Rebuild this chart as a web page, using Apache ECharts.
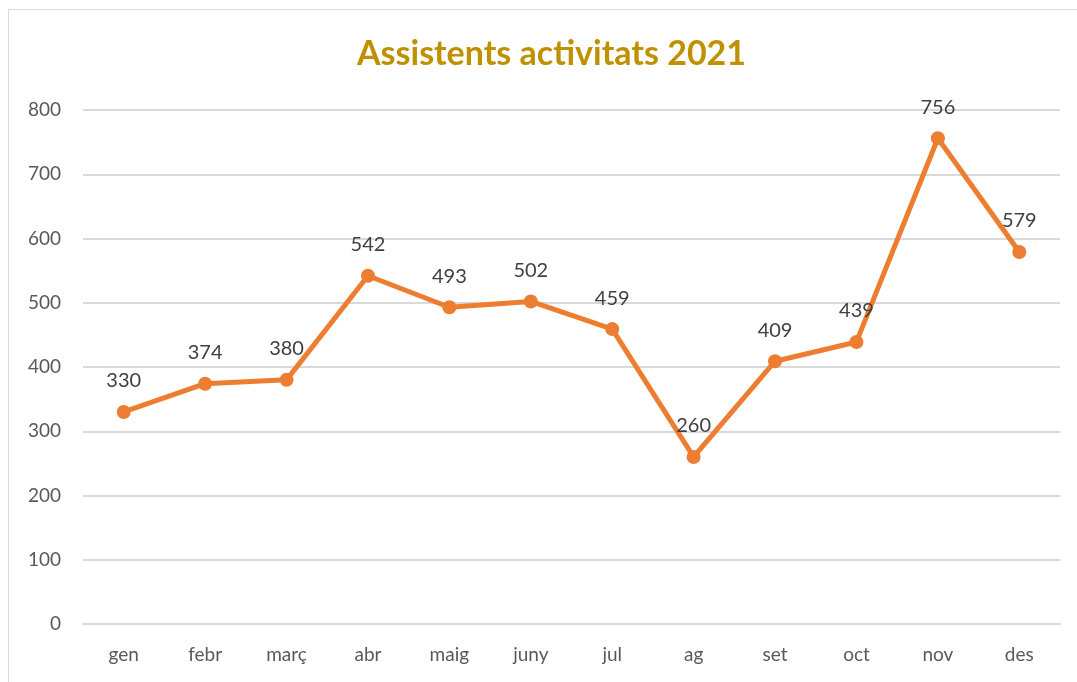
<!DOCTYPE html>
<html>
<head>
<meta charset="utf-8">
<script src="https://cdn.jsdelivr.net/npm/echarts@6/dist/echarts.min.js"></script>
<style>
  html, body { margin: 0; padding: 0; background: #fff; }
  #frame { position: absolute; left: 8px; top: 9px; width: 1080px; height: 690px; border: 1px solid #d9d9d9; }
  #chart { width: 1077px; height: 682px; position: absolute; left: 0; top: 0; }
</style>
</head>
<body>
<div id="frame"></div>
<div id="chart"></div>
<script>
// dades
const months = ['gen', 'febr', 'març', 'abr', 'maig', 'juny', 'jul', 'ag', 'set', 'oct', 'nov', 'des']
const assistents = [330, 374, 380, 542, 493, 502, 459, 260, 409, 439, 756, 579]
const yTicks = [0, 100, 200, 300, 400, 500, 600, 700, 800]

const font = 'Lato, "Open Sans", sans-serif'
const chart = echarts.init(document.getElementById('chart'))

chart.setOption({
    backgroundColor: 'transparent',
    animation: false,
    title: {
        text: 'Assistents activitats 2021',
        left: 352,
        top: 32,
        textStyle: { color: '#BF9000', fontSize: 34, fontWeight: 'bold', fontFamily: font }
    },
    grid: { left: 83, right: 17, top: 110, bottom: 58 },
    xAxis: {
        type: 'category',
        data: months,
        boundaryGap: true,
        axisLine: { show: true, lineStyle: { color: '#d9d9d9', width: 2 } },
        axisTick: { show: false },
        axisLabel: { color: '#595959', fontSize: 19, fontFamily: font, margin: 21 }
    },
    yAxis: {
        type: 'value',
        min: yTicks[0],
        max: yTicks[yTicks.length - 1],
        interval: 100,
        axisLine: { show: false },
        axisTick: { show: false },
        axisLabel: { color: '#595959', fontSize: 19, fontFamily: font, margin: 22 },
        splitLine: { lineStyle: { color: '#d9d9d9', width: 2 } }
    },
    series: [{
        name: 'Assistents',
        type: 'line',
        data: assistents,
        symbol: 'circle',
        symbolSize: 14,
        lineStyle: { color: '#ED7D31', width: 5 },
        itemStyle: { color: '#ED7D31' },
        label: {
            show: true,
            position: 'top',
            distance: 14,
            color: '#404040',
            fontSize: 20,
            fontFamily: font
        }
    }]
})
</script>
</body>
</html>
